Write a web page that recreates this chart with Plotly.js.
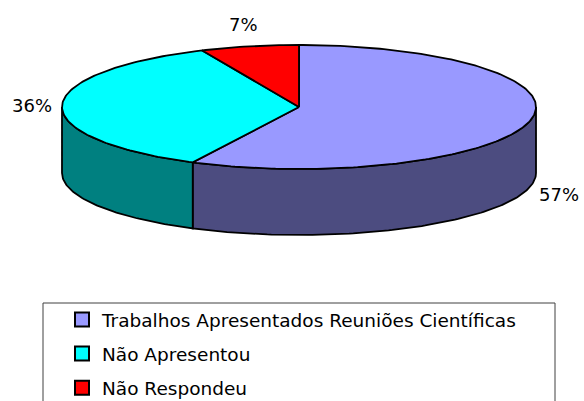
<!DOCTYPE html>
<html>
<head>
<meta charset="utf-8">
<script src="https://cdn.plot.ly/plotly-3.0.1.min.js"></script>
<style>html,body{margin:0;padding:0;background:#fff;}#chart{width:584px;height:401px;}</style>
</head>
<body>
<div id="chart"></div>
<script>
// ---- data ----
const categories = ['Trabalhos Apresentados Reuniões Científicas', 'Não Apresentou', 'Não Respondeu'];
const values = [57.4, 35.9, 6.7];
const topColors = ['#9999FF', '#00FFFF', '#FF0000'];
const sideColors = ['#4C4C80', '#008080', '#800000'];

// ---- geometry (style) ----
const W = 584, H = 401;
const cx = 299, cy = 107, rx = 237, ry = 62, depth = 66;
const FONT = 'DejaVu Sans, Arial, sans-serif';

function pt(deg, dy) {
  const t = deg * Math.PI / 180;
  return [cx + rx * Math.sin(t), cy - ry * Math.cos(t) + (dy || 0)];
}

const total = values.reduce((a, b) => a + b, 0);
const traces = [];
const annotations = [];
let start = 0;
const slices = values.map((v, i) => {
  const a = start, b = start + v / total * 360;
  start = b;
  return {a, b, i};
});

// side faces (front half only: 90..270 deg)
slices.forEach(s => {
  const lo = Math.max(s.a, 90), hi = Math.min(s.b, 270);
  if (hi <= lo) return;
  const xs = [], ys = [];
  const n = Math.max(2, Math.ceil(hi - lo));
  for (let k = 0; k <= n; k++) { const p = pt(lo + (hi - lo) * k / n, 0); xs.push(p[0]); ys.push(p[1]); }
  for (let k = n; k >= 0; k--) { const p = pt(lo + (hi - lo) * k / n, depth); xs.push(p[0]); ys.push(p[1]); }
  xs.push(xs[0]); ys.push(ys[0]);
  traces.push({type: 'scatter', mode: 'lines', x: xs, y: ys, fill: 'toself',
    fillcolor: sideColors[s.i], line: {color: '#000', width: 1.8}, hoverinfo: 'skip', showlegend: false});
});

// top wedges
slices.forEach(s => {
  const xs = [cx], ys = [cy];
  const n = Math.max(2, Math.ceil(s.b - s.a));
  for (let k = 0; k <= n; k++) { const p = pt(s.a + (s.b - s.a) * k / n, 0); xs.push(p[0]); ys.push(p[1]); }
  xs.push(cx); ys.push(cy);
  traces.push({type: 'scatter', mode: 'lines', x: xs, y: ys, fill: 'toself',
    fillcolor: topColors[s.i], line: {color: '#000', width: 1.8}, hoverinfo: 'skip', showlegend: false});
  // label
  const mid = (s.a + s.b) / 2, t = mid * Math.PI / 180;
  const lx = cx + (rx + 30) * Math.sin(t);
  let ly = cy - (ry + 22) * Math.cos(t);
  if (Math.cos(t) < -0.1) ly += depth + 2;
  annotations.push({x: lx, y: ly, xref: 'x', yref: 'y', text: Math.round(values[s.i] / total * 100) + '%', showarrow: false,
    font: {family: FONT, size: 18, color: '#000'}, xanchor: 'center', yanchor: 'middle'});
});

// legend entries
categories.forEach((c, i) => {
  traces.push({type: 'scatter', mode: 'markers', x: [null], y: [null], name: c, legendgroup: 'g' + i,
    marker: {symbol: 'square', size: 14, color: topColors[i], line: {color: '#000', width: 2}}, hoverinfo: 'skip'});
});

const layout = {
  width: W, height: H,
  margin: {l: 0, r: 0, t: 0, b: 0, autoexpand: false},
  paper_bgcolor: '#fff', plot_bgcolor: '#fff',
  xaxis: {range: [0, W], visible: false, fixedrange: true},
  yaxis: {range: [H, 0], visible: false, fixedrange: true},
  showlegend: true,
  legend: {x: 62 / W, y: 1 - 301 / H, xanchor: 'left', yanchor: 'top', bgcolor: 'rgba(0,0,0,0)',
    borderwidth: 0, font: {family: FONT, size: 18.5, color: '#000'}, traceorder: 'grouped', tracegroupgap: 7,
    itemclick: false, itemdoubleclick: false},
  shapes: [{type: 'rect', xref: 'paper', yref: 'paper', x0: 43 / W, x1: 555 / W, y0: 1 - 303 / H, y1: -0.1,
    line: {color: '#404040', width: 1}, fillcolor: 'rgba(0,0,0,0)', layer: 'below'}],
  annotations: annotations
};

Plotly.newPlot('chart', traces, layout, {displayModeBar: false, staticPlot: true});
</script>
</body>
</html>
